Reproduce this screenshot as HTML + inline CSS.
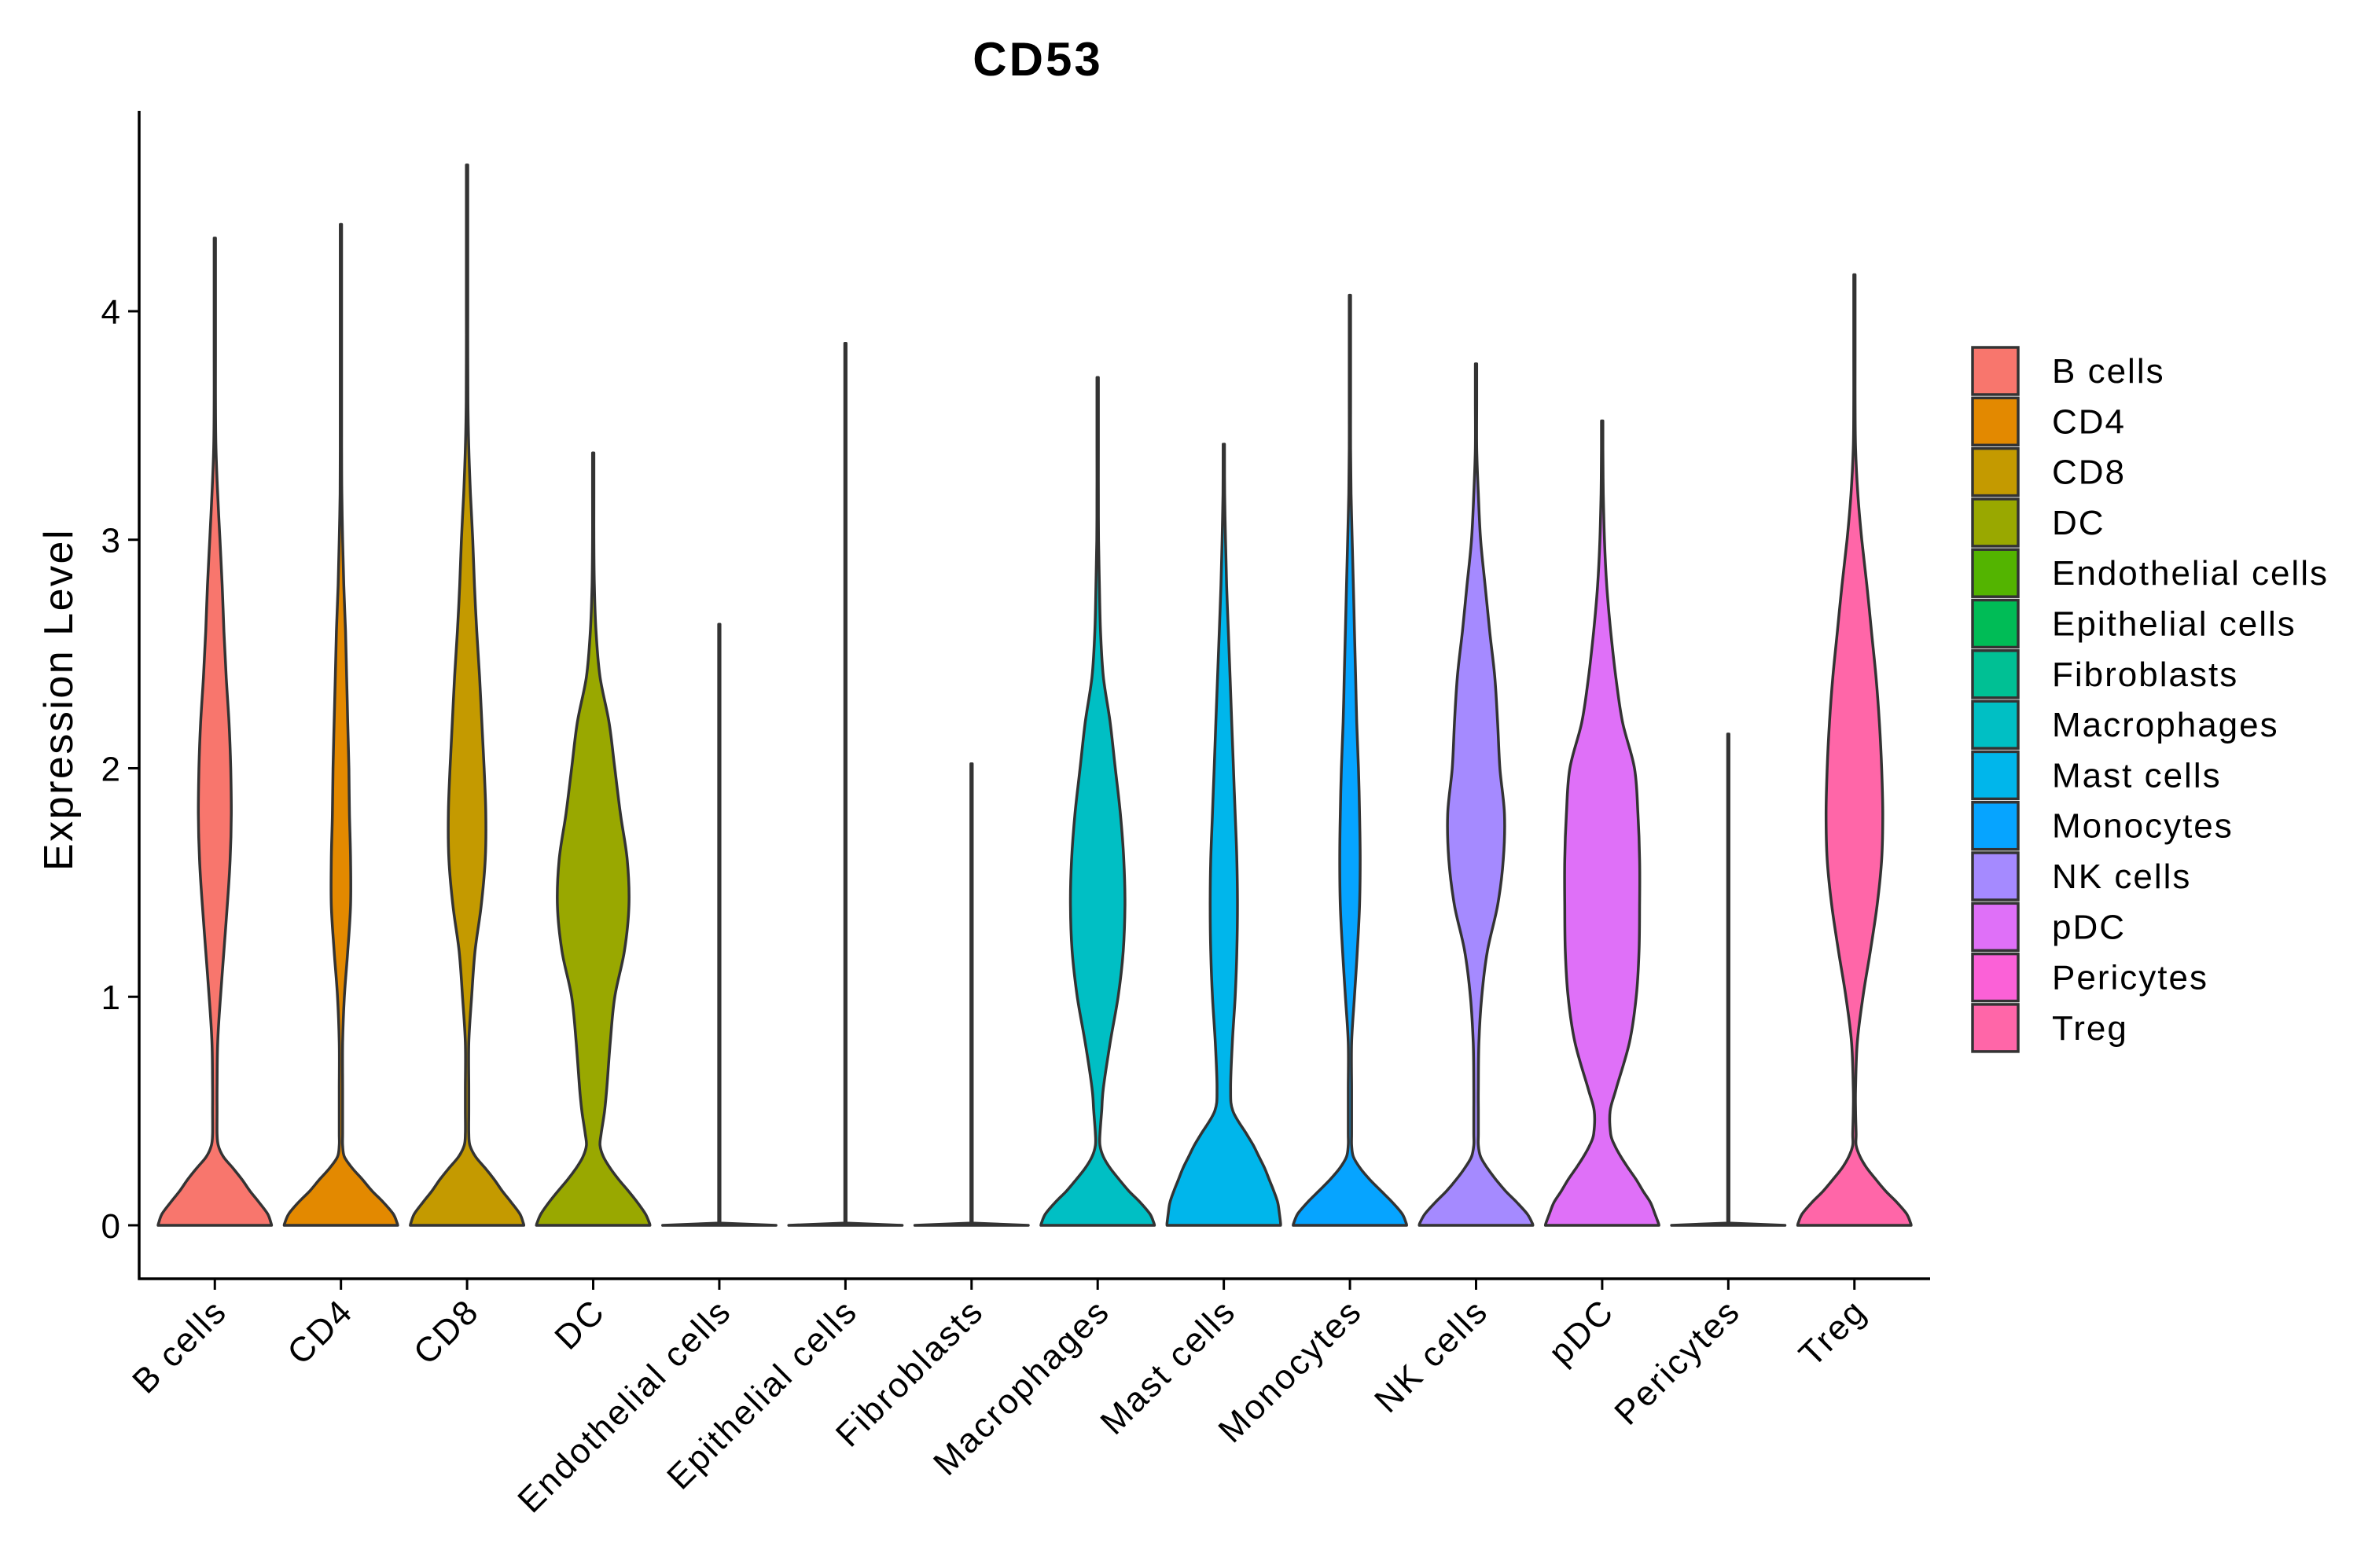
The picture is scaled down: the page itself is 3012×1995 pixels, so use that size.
<!DOCTYPE html>
<html><head><meta charset="utf-8"><style>
html,body{margin:0;padding:0;background:#fff}
svg{display:block;font-family:"Liberation Sans",Arial,sans-serif}
</style></head><body>
<svg id="chart" width="3012" height="1995" viewBox="0 0 3012 1995" xmlns="http://www.w3.org/2000/svg">
<rect width="3012" height="1995" fill="#fff"/>
<text x="1320" y="96" font-size="60" font-weight="bold" text-anchor="middle" letter-spacing="3">CD53</text>
<text transform="translate(92,890) rotate(-90)" font-size="52" letter-spacing="2.5" text-anchor="middle">Expression Level</text>
<g id="plot"></g>
<g id="legend"></g>
</svg>
<script>
const categories = ["B cells","CD4","CD8","DC","Endothelial cells","Epithelial cells","Fibroblasts","Macrophages","Mast cells","Monocytes","NK cells","pDC","Pericytes","Treg"];
const colors = ["#F8766D","#E38900","#C49A00","#99A800","#53B400","#00BC56","#00C094","#00BFC4","#00B6EB","#06A4FF","#A58AFF","#DF70F8","#FB61D7","#FF66A8"];
const maxValues = [4.32,4.38,4.64,3.38,2.63,3.86,2.02,3.71,3.41,4.07,3.77,3.52,2.15,4.16];
const densityGrid = [0,0.01,0.05,0.1,0.15,0.2,0.25,0.3,0.35,0.4,0.5,0.6,0.8,1.0,1.2,1.4,1.6,1.8,2.0,2.2,2.4,2.6,2.8,3.0,3.2,3.4,3.6,3.8,4.0,4.2,4.4];
const widthsB = [1,.99,.93,.78,.62,.48,.32,.15,.06,.04,.04,.04,.05,.1,.16,.22,.27,.29,.28,.25,.2,.16,.13,.09,.05,.02,.01,0,0,0,0];
const widthsCD4 = [1,.99,.92,.75,.55,.38,.2,.06,.03,.03,.03,.03,.03,.06,.12,.17,.17,.15,.14,.12,.1,.08,.05,.03,.015,0,0,0,0,0,0];
const widthsCD8 = [1,.99,.93,.78,.62,.48,.32,.15,.05,.03,.03,.03,.03,.08,.14,.25,.32,.33,.3,.26,.22,.17,.13,.1,.06,.03,.015,.01,0,0,0];
const widthsDC = [1,.99,.92,.78,.62,.45,.3,.18,.12,.14,.2,.24,.3,.38,.55,.63,.6,.48,.38,.28,.12,.05,.02,.01,0,0,0,0,0,0,0];
const widthsZero = [1,0,0,0,0,0,0,0,0,0,0,0,0,0,0,0,0,0,0,0,0,0,0,0,0,0,0,0,0,0,0];
const widthsMac = [1,.99,.92,.75,.55,.38,.22,.1,.04,.04,.07,.1,.22,.36,.45,.48,.46,.4,.31,.22,.1,.05,.03,.015,0,0,0,0,0,0,0];
const widthsMast = [1,1,.98,.95,.88,.8,.72,.62,.52,.4,.16,.12,.15,.2,.23,.24,.23,.2,.17,.14,.11,.08,.05,.03,.015,0,0,0,0,0,0];
const widthsMono = [1,.99,.92,.75,.55,.35,.18,.06,.03,.03,.03,.03,.03,.08,.13,.17,.18,.17,.15,.12,.1,.08,.06,.04,.02,.01,0,0,0,0,0];
const widthsNK = [1,.99,.9,.72,.52,.35,.2,.08,.04,.04,.04,.04,.05,.1,.2,.38,.48,.5,.42,.38,.33,.24,.16,.08,.04,.01,0,0,0,0,0];
const widthsPDC = [1,.99,.93,.85,.72,.6,.46,.33,.22,.15,.14,.25,.48,.6,.65,.66,.66,.63,.57,.36,.24,.15,.08,.04,.02,.01,0,0,0,0,0];
const widthsTreg = [1,.99,.92,.75,.55,.38,.22,.1,.03,.03,.02,.02,.05,.15,.28,.4,.48,.5,.48,.44,.38,.3,.22,.13,.06,.02,.01,0,0,0,0];
const densities = [widthsB,widthsCD4,widthsCD8,widthsDC,widthsZero,widthsZero,widthsZero,widthsMac,widthsMast,widthsMono,widthsNK,widthsPDC,widthsZero,widthsTreg];
const yTicks = [0,1,2,3,4];

const NS = "http://www.w3.org/2000/svg";
const X0 = 177, X1 = 2455, YTOP = 141, YBOT = 1627;
const yMin = -0.234, yMax = 4.877;
const step = (X1 - X0) / (categories.length - 1 + 1.2);
function xScale(i){ return X0 + (0.6 + i) * step; }
function yScale(v){ return YBOT - (v - yMin) / (yMax - yMin) * (YBOT - YTOP); }
const halfW = 0.45 * step;
const plot = document.getElementById("plot");
function mk(tag, attrs){ const e = document.createElementNS(NS, tag); for (const k in attrs) e.setAttribute(k, attrs[k]); return e; }
function smoothPath(p){
  let d = "M" + p[0][0].toFixed(1) + "," + p[0][1].toFixed(1);
  for (let i = 0; i < p.length - 1; i++) {
    const p0 = p[Math.max(0, i-1)], p1 = p[i], p2 = p[i+1], p3 = p[Math.min(p.length-1, i+2)];
    const c1 = [p1[0] + (p2[0]-p0[0])/6, p1[1] + (p2[1]-p0[1])/6];
    const c2 = [p2[0] - (p3[0]-p1[0])/6, p2[1] - (p3[1]-p1[1])/6];
    d += " C" + c1[0].toFixed(1) + "," + c1[1].toFixed(1) + " " + c2[0].toFixed(1) + "," + c2[1].toFixed(1) + " " + p2[0].toFixed(1) + "," + p2[1].toFixed(1);
  }
  return d;
}
function linePath(p){ return "M" + p.map(q => q[0].toFixed(1) + "," + q[1].toFixed(1)).join(" L"); }

categories.forEach((c, i) => {
  const cx = xScale(i), mx = maxValues[i], d = densities[i];
  const pts = [];
  for (let j = 0; j < densityGrid.length; j++) {
    if (densityGrid[j] >= mx) break;
    let w = d[j];
    if (j > 0) w = Math.max(w, 0.012);
    pts.push([densityGrid[j], w]);
  }
  pts.push([mx, 0.012]);
  const right = pts.map(p => [cx + p[1]*halfW, yScale(p[0])]);
  const left = pts.slice().reverse().map(p => [cx - p[1]*halfW, yScale(p[0])]);
  const degenerate = d[2] === 0;
  const f = degenerate ? linePath : smoothPath;
  const pathD = f(right) + " L" + f(left).slice(1) + " Z";
  const path = mk("path", {d: pathD, fill: colors[i], stroke: "#333", "stroke-width": 3.5, "stroke-linejoin": "round"});
  
  
  plot.appendChild(path);
  const tick = mk("line", {x1: cx, x2: cx, y1: YBOT, y2: YBOT + 14, stroke: "#000", "stroke-width": 3});
  
  
  plot.appendChild(tick);
  const t = mk("text", {transform: `translate(${cx + 18},${YBOT + 44}) rotate(-45)`, "text-anchor": "end", "font-size": 44, "letter-spacing": 2.6, fill: "#000"});
  t.textContent = c;
  
  
  plot.appendChild(t);
});

yTicks.forEach(v => {
  const y = yScale(v);
  const tk = mk("line", {x1: X0 - 14, x2: X0, y1: y, y2: y, stroke: "#000", "stroke-width": 3});
  
  
  plot.appendChild(tk);
  const t = mk("text", {x: X0 - 24, y: y + 16, "text-anchor": "end", "font-size": 44, fill: "#000"});
  t.textContent = v;
  
  
  plot.appendChild(t);
});

const yAxis = mk("line", {x1: X0, x2: X0, y1: YTOP, y2: YBOT + 1.5, stroke: "#000", "stroke-width": 3.5});


plot.appendChild(yAxis);
const xAxis = mk("line", {x1: X0 - 1.5, x2: X1, y1: YBOT, y2: YBOT, stroke: "#000", "stroke-width": 3.5});


plot.appendChild(xAxis);

const legend = document.getElementById("legend");
categories.forEach((c, i) => {
  const y = 440 + i * 64.3;
  const g = mk("g", {});
  
  
  g.appendChild(mk("rect", {x: 2509, y: y + 2, width: 58, height: 60, fill: colors[i], stroke: "#333", "stroke-width": 3.5}));
  const t = mk("text", {x: 2610, y: y + 47, "font-size": 44, "letter-spacing": 2, fill: "#000"});
  t.textContent = c;
  g.appendChild(t);
  legend.appendChild(g);
});
</script>
</body></html>
